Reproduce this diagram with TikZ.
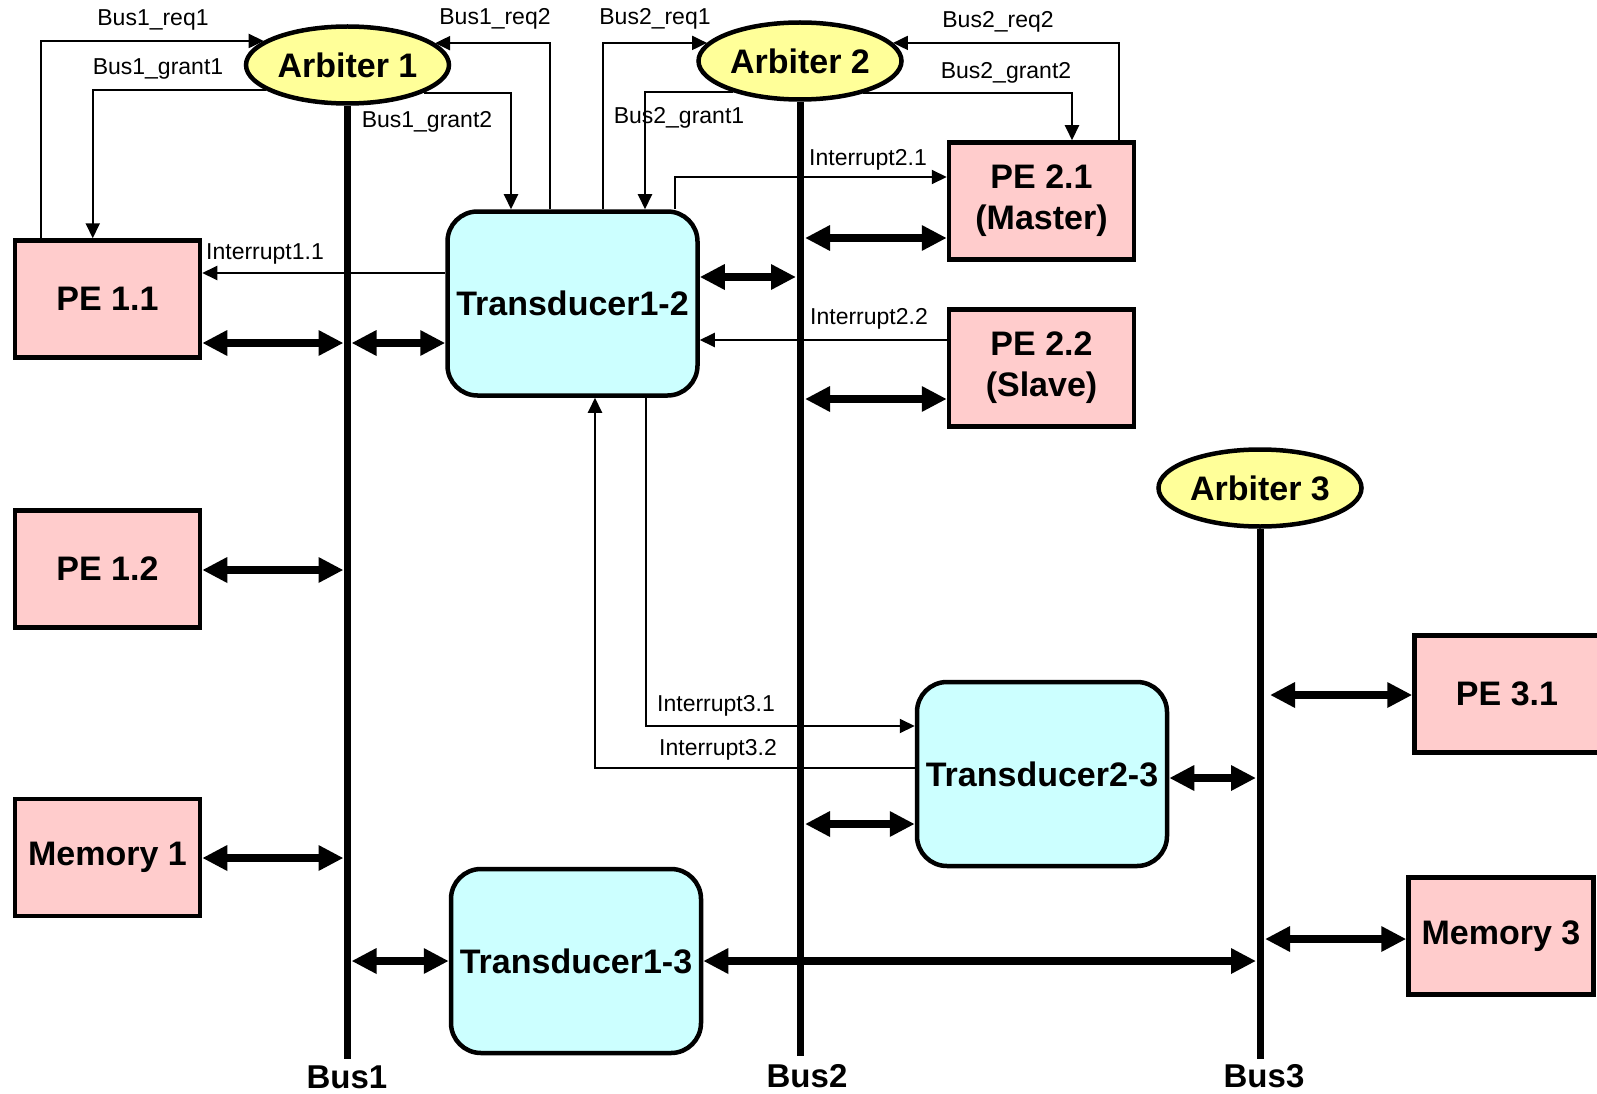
\documentclass[tikz,border=0pt]{standalone}
\usepackage{fontspec}
\setmainfont{Liberation Sans}
\usetikzlibrary{arrows.meta,shapes.geometric,calc}
\definecolor{pepink}{HTML}{FFCCCC}
\definecolor{tcyan}{HTML}{CCFFFF}
\definecolor{arbyellow}{HTML}{FFFF99}
\begin{document}
\begin{tikzpicture}[x=1pt,y=-1pt,
  pebox/.style={draw, line width=4.5pt, fill=pepink, minimum width=185pt, minimum height=117pt, inner sep=0pt, align=center, font=\bfseries\fontsize{34}{41}\selectfont},
  tbox/.style={draw, line width=4.5pt, fill=tcyan, rounded corners=30pt, minimum width=250pt, minimum height=184pt, inner sep=0pt, font=\bfseries\fontsize{34}{41}\selectfont},
  arb/.style={ellipse, draw, line width=4.5pt, fill=arbyellow, minimum width=203pt, minimum height=77pt, inner sep=0pt, font=\bfseries\fontsize{34}{41}\selectfont},
  sig/.style={line width=2pt, -{Triangle[length=15pt,width=14pt]}},
  link/.style={line width=8pt, {Triangle[length=25pt,width=24pt]}-{Triangle[length=25pt,width=24pt]}},
  busline/.style={line width=7pt},
  siglabel/.style={font=\fontsize{23}{26}\selectfont, inner sep=0pt},
  buslabel/.style={font=\bfseries\fontsize{33}{38}\selectfont, inner sep=0pt}]
\clip (0,0) rectangle (1597,1094);
\fill[white] (0,0) rectangle (1597,1094);

% arbiters
\node[arb] (arb1) at (347.5,65) {Arbiter 1};
\node[arb] (arb2) at (800,61) {Arbiter 2};
\node[arb] (arb3) at (1260,488) {Arbiter 3};

% bus ends
\coordinate (b1end) at (347.5,1059);
\coordinate (b2end) at (800,1056);
\coordinate (b3end) at (1260,1059);

% buses
\draw[busline] (arb1.south) -- (b1end);
\draw[busline] (arb2.south) -- (b2end);
\draw[busline] (arb3.south) -- (b3end);

\node[buslabel] (l1) at (347,1077) {Bus1};
\node[buslabel] (l2) at (807,1076) {Bus2};
\node[buslabel] (l3) at (1264,1076) {Bus3};

% PEs and memories
\node[pebox] (pe11) at (107.5,299) {PE 1.1};
\node[pebox] (pe12) at (107.5,569) {PE 1.2};
\node[pebox] (mem1) at (107.5,857.5) {Memory 1};
\node[pebox] (pe21) at (1041.5,201) {PE 2.1\\(Master)};
\node[pebox] (pe22) at (1041.5,368) {PE 2.2\\(Slave)};
\node[pebox] (pe31) at (1507,694) {PE 3.1};
\node[pebox] (mem3) at (1501,936) {Memory 3};

% transducers
\node[tbox] (t12) at (572.5,303.5) {Transducer1-2};
\node[tbox] (t13) at (576,961) {Transducer1-3};
\node[tbox] (t23) at (1042,774) {Transducer2-3};

% bus request / grant signals
\draw[sig] ([xshift=28pt]pe11.north west) |- (arb1.164);
\draw[sig] (arb1.197) -| ([xshift=80pt]pe11.north west);
\draw[sig] ([xshift=-22.5pt]t12.north) |- (arb1.14);
\draw[sig] (arb1.-20) -| ([xshift=-61.5pt]t12.north);
\draw[sig] ([xshift=30.5pt]t12.north) |- (arb2.169);
\draw[sig] (arb2.205) -| ([xshift=72.5pt]t12.north);
\draw[sig] ([xshift=77.5pt]pe21.north) |- (arb2.11);
\draw[sig] (arb2.-27) -| ([xshift=30.5pt]pe21.north);

\node[siglabel] (lr11) at (153,20) {Bus1\_req1};
\node[siglabel] (lg11) at (158,69) {Bus1\_grant1};
\node[siglabel] (lr12) at (495,19) {Bus1\_req2};
\node[siglabel] (lg12) at (427,122) {Bus1\_grant2};
\node[siglabel] (lr21) at (655,19) {Bus2\_req1};
\node[siglabel] (lg21) at (679,118) {Bus2\_grant1};
\node[siglabel] (lr22) at (998,22) {Bus2\_req2};
\node[siglabel] (lg22) at (1006,73) {Bus2\_grant2};

% interrupts
\draw[sig] (t12.west |- 0,273) -- (pe11.east |- 0,273);
\draw[sig] (t12.north -| 675,0) |- (pe21.west |- 0,177);
\draw[sig] (pe22.west |- 0,340) -- (t12.east |- 0,340);
\draw[sig] (t12.south -| 646,0) |- (t23.west |- 0,726);
\draw[sig] (t23.west |- 0,768) -| (t12.south -| 595,0);

\node[siglabel] (li11) at (265,254) {Interrupt1.1};
\node[siglabel] (li21) at (868,160) {Interrupt2.1};
\node[siglabel] (li22) at (869,319) {Interrupt2.2};
\node[siglabel] (li31) at (716,706) {Interrupt3.1};
\node[siglabel] (li32) at (718,750) {Interrupt3.2};

% bus connections
\draw[link, shorten >=4pt] (pe11.east |- 0,343) -- (b1end |- 0,343);
\draw[link, shorten <=4pt] (b1end |- 0,343) -- (t12.west |- 0,343);
\draw[link, shorten >=4pt] (t12.east |- 0,277) -- (b2end |- 0,277);
\draw[link, shorten <=5pt] (b2end |- 0,238) -- (pe21.west |- 0,238);
\draw[link, shorten <=5pt] (b2end |- 0,399) -- (pe22.west |- 0,399);
\draw[link, shorten >=4pt] (pe12.east |- 0,570) -- (b1end |- 0,570);
\draw[link, shorten >=4pt] (mem1.east |- 0,858) -- (b1end |- 0,858);
\draw[link, shorten <=4pt] (b1end |- 0,961) -- (t13.west |- 0,961);
\draw[link, shorten >=4pt] (t13.east |- 0,961) -- (b3end |- 0,961);
\draw[link, shorten <=5pt] (b2end |- 0,824) -- (t23.west |- 0,824);
\draw[link, shorten >=4pt] (t23.east |- 0,778) -- (b3end |- 0,778);
\draw[link, shorten <=10pt] (b3end |- 0,695) -- (pe31.west |- 0,695);
\draw[link, shorten <=5pt] (b3end |- 0,939) -- (mem3.west |- 0,939);
\end{tikzpicture}
\end{document}
